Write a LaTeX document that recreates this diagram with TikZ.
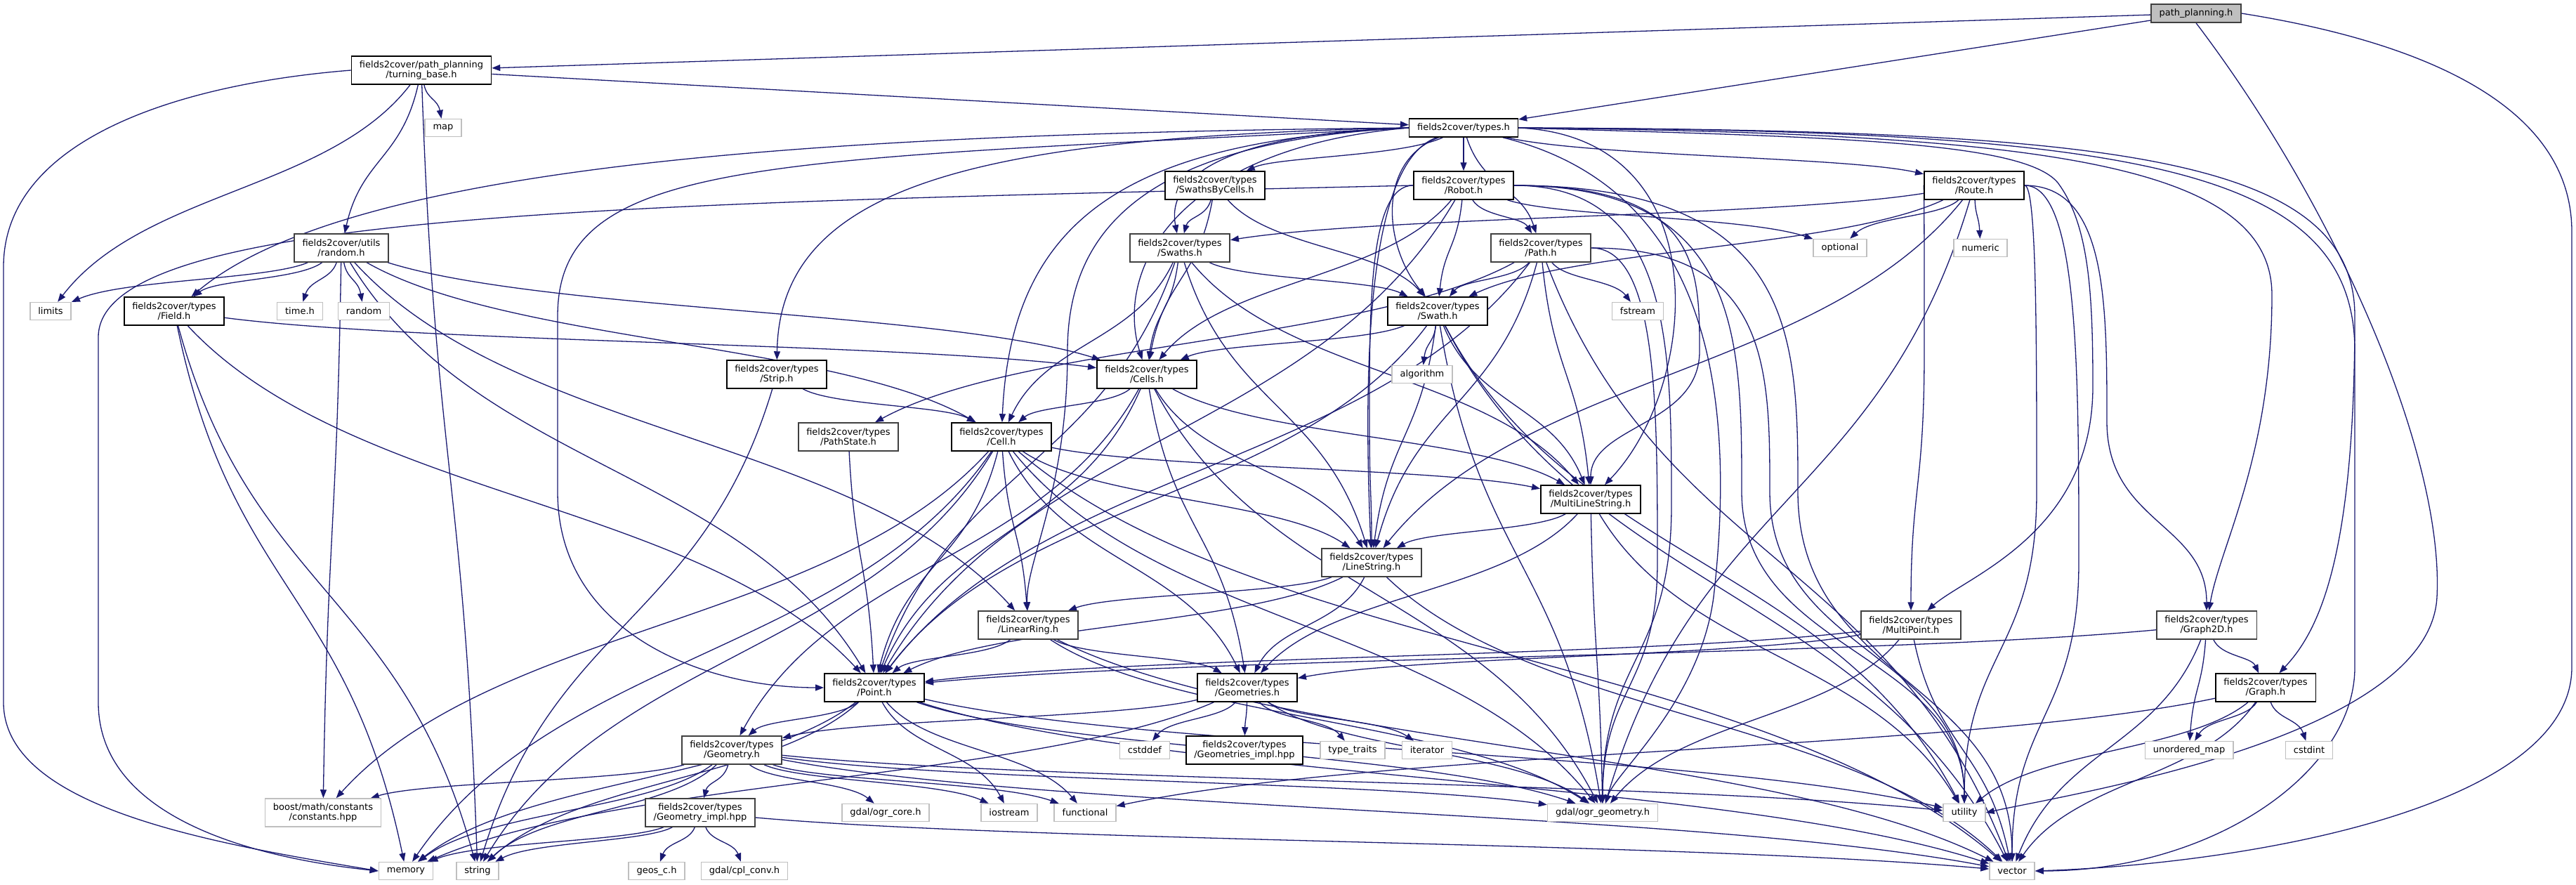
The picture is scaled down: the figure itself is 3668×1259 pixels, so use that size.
\documentclass[tikz,border=0pt]{standalone}
\usepackage{fontspec}
\setmainfont{DejaVu Sans}
\usepackage{tikz}
\usetikzlibrary{arrows.meta, backgrounds, calc}

\definecolor{edgeblue}{HTML}{191970}
\definecolor{boxgray}{HTML}{404040}
\definecolor{leafgray}{HTML}{BFBFBF}

% one include edge, drawn as a soft S-curve from #1 to #2
\newcommand{\depedge}[2]{%
  \draw[dep] let \p1=(#1.center), \p2=(#2.center) in
    (#1) .. controls ({\x1+0.25*(\x2-\x1)},{\y1+0.5*(\y2-\y1)})
             and ({\x2-0.25*(\x2-\x1)},{\y2-0.5*(\y2-\y1)}) .. (#2);}
% an edge that leaves #1 sideways, runs down through (#3,#4), then into #2
\newcommand{\viaedge}[4]{%
  \draw[dep] let \p1=(#1.center), \p2=(#2.center), \p3=(#3,#4) in
    (#1) .. controls (\x3,\y1) and (\x3,{0.5*(\y1+\y3)}) .. (\p3)
         .. controls (\x3,{0.5*(\y3+\y2)}) and (\x2,{0.5*(\y3+\y2)}) .. (#2);}

\begin{document}
\begin{tikzpicture}[
    x=1pt, y=-1pt,
    font=\fontsize{13}{14}\selectfont,
    hdr/.style={draw=black, fill=white, line width=1.5pt, align=center,
        inner xsep=11.5pt, inner ysep=2pt, minimum height=40pt},
    hdrgray/.style={hdr, draw=boxgray},
    sysnode/.style={draw=leafgray, fill=white, line width=1.5pt, align=center,
        inner xsep=11.5pt, inner ysep=2pt, minimum height=25pt},
    rootnode/.style={draw=boxgray, fill=leafgray, line width=1.5pt,
        inner xsep=11.5pt, inner ysep=2pt, minimum height=26pt},
    dep/.style={draw=edgeblue, line width=1.3pt,
        -{Triangle[length=12pt, width=9pt, fill=edgeblue]}}
]
\useasboundingbox (0,0) rectangle (3668,1259);

% Nodes
\node[rootnode] (path_plan) at (3127,19) {path\_planning.h};
\node[hdr] (turning_base) at (600,100) {fields2cover/path\_planning\\/turning\_base.h};
\node[hdr, minimum height=26pt] (types_h) at (2084,182) {fields2cover/types.h};
\node[sysnode] (map_h) at (631,182) {map};
\node[hdr] (swaths_by_cells) at (1730,264) {fields2cover/types\\/SwathsByCells.h};
\node[hdr] (robot) at (2084,264) {fields2cover/types\\/Robot.h};
\node[hdr] (route) at (2811,264) {fields2cover/types\\/Route.h};
\node[hdrgray] (random_h) at (486,353) {fields2cover/utils\\/random.h};
\node[hdrgray] (swaths) at (1680,353) {fields2cover/types\\/Swaths.h};
\node[hdrgray] (path_h) at (2194,353) {fields2cover/types\\/Path.h};
\node[sysnode] (optional_h) at (2620,353) {optional};
\node[sysnode] (numeric_h) at (2820,353) {numeric};
\node[sysnode] (limits_h) at (72,443) {limits};
\node[hdr] (field) at (248,443) {fields2cover/types\\/Field.h};
\node[sysnode] (time_h) at (427,443) {time.h};
\node[sysnode] (random_std) at (518,443) {random};
\node[hdr] (swath) at (2047,443) {fields2cover/types\\/Swath.h};
\node[sysnode] (fstream_h) at (2332,443) {fstream};
\node[hdr] (strip) at (1106,533) {fields2cover/types\\/Strip.h};
\node[hdr] (cells) at (1633,533) {fields2cover/types\\/Cells.h};
\node[sysnode] (algorithm_h) at (2025,533) {algorithm};
\node[hdrgray] (path_state) at (1208,622) {fields2cover/types\\/PathState.h};
\node[hdr] (cell) at (1426,622) {fields2cover/types\\/Cell.h};
\node[hdr] (multi_ls) at (2265,711) {fields2cover/types\\/MultiLineString.h};
\node[hdrgray] (line_string) at (1953,801) {fields2cover/types\\/LineString.h};
\node[hdrgray] (linear_ring) at (1464,890) {fields2cover/types\\/LinearRing.h};
\node[hdrgray] (multi_point) at (2721,890) {fields2cover/types\\/MultiPoint.h};
\node[hdrgray] (graph2d) at (3142,890) {fields2cover/types\\/Graph2D.h};
\node[hdr] (point) at (1245,979) {fields2cover/types\\/Point.h};
\node[hdr] (geometries) at (1776,979) {fields2cover/types\\/Geometries.h};
\node[hdr] (graph) at (3226,979) {fields2cover/types\\/Graph.h};
\node[hdrgray] (geometry) at (1042,1068) {fields2cover/types\\/Geometry.h};
\node[sysnode] (cstddef_h) at (1630,1068) {cstddef};
\node[hdr] (geoms_impl) at (1772,1068) {fields2cover/types\\/Geometries\_impl.hpp};
\node[sysnode] (type_traits_h) at (1926,1068) {type\_traits};
\node[sysnode] (iterator_h) at (2032,1068) {iterator};
\node[sysnode] (unordered_map_h) at (3117,1068) {unordered\_map};
\node[sysnode] (cstdint_h) at (3288,1068) {cstdint};
\node[sysnode, minimum height=40pt] (boost_const) at (460,1157) {boost/math/constants\\/constants.hpp};
\node[hdrgray] (geom_impl) at (997,1157) {fields2cover/types\\/Geometry\_impl.hpp};
\node[sysnode] (ogr_core) at (1261,1157) {gdal/ogr\_core.h};
\node[sysnode] (iostream_h) at (1437,1157) {iostream};
\node[sysnode] (functional_h) at (1545,1157) {functional};
\node[sysnode] (ogr_geom) at (2282,1157) {gdal/ogr\_geometry.h};
\node[sysnode] (utility_h) at (2797,1157) {utility};
\node[sysnode] (memory_h) at (578,1240) {memory};
\node[sysnode] (string_h) at (680,1240) {string};
\node[sysnode] (geos_c) at (935,1240) {geos\_c.h};
\node[sysnode] (cpl_conv) at (1060,1240) {gdal/cpl\_conv.h};
\node[sysnode] (vector_h) at (2865,1240) {vector};

% Paths
\begin{scope}[on background layer]
% path_planning.h
\draw[dep] (path_plan) -- (turning_base);
\draw[dep] (path_plan) -- (types_h);
\draw[dep] (path_plan.south) .. controls (3330,300) and (3480,650) .. (3470,850)
    .. controls (3460,1050) and (2950,1130) .. (utility_h.east);
\draw[dep] (path_plan.east) .. controls (3450,60) and (3662,150) .. (3662,330)
    -- (3662,950) .. controls (3662,1150) and (3200,1230) .. (vector_h.east);

% turning_base.h
\draw[dep] (turning_base) -- (types_h);
\foreach \t in {limits_h,map_h,random_h,string_h}
    \depedge{turning_base}{\t};
\draw[dep] (turning_base.west) .. controls (250,120) and (5,200) .. (5,380)
    -- (5,1000) .. controls (5,1150) and (300,1200) .. (memory_h.west);

% types.h
\foreach \t in {swaths_by_cells,robot,route,path_h}
    \depedge{types_h}{\t};
\draw[dep] (types_h.west) .. controls (1200,190) and (500,230) .. (field);
\draw[dep] (types_h.west) .. controls (1100,230) and (794,220) .. (794,450)
    -- (794,700) .. controls (794,900) and (1000,979) .. (point.west);
\draw[dep] (types_h.west) .. controls (1400,195) and (1110,260) .. (strip);
\draw[dep] (types_h.west) .. controls (1620,200) and (1440,300) .. (cell);
\draw[dep] (types_h.west) .. controls (1640,200) and (1520,320) .. (1520,500)
    .. controls (1520,700) and (1460,800) .. (linear_ring);
\draw[dep] (types_h.west) .. controls (1680,210) and (1585,380) .. (cells);
\draw[dep] (types_h.west) .. controls (1750,190) and (1660,250) .. (swaths);
\draw[dep] (types_h) .. controls (1960,230) and (1970,350) .. (swath);
\draw[dep] (types_h) .. controls (1950,230) and (1940,500) .. (line_string);
\draw[dep] (types_h.east) .. controls (2450,195) and (2420,550) .. (multi_ls);
\draw[dep] (types_h) .. controls (2400,260) and (2480,500) .. (2440,850)
    .. controls (2420,1000) and (2300,1100) .. (ogr_geom);
\draw[dep] (types_h.east) .. controls (2600,195) and (2880,200) .. (2930,260)
    .. controls (2975,320) and (2980,420) .. (2980,550)
    .. controls (2980,760) and (2800,820) .. (multi_point);
\draw[dep] (types_h.east) .. controls (2900,190) and (3235,230) .. (3235,420)
    .. controls (3235,650) and (3160,780) .. (graph2d);
\draw[dep] (types_h.east) .. controls (3000,185) and (3353,220) .. (3353,450)
    .. controls (3353,800) and (3300,900) .. (graph);
\draw[dep] (types_h.east) .. controls (3050,185) and (3353,240) .. (3353,500)
    -- (3353,950) .. controls (3353,1100) and (3150,1240) .. (vector_h.east);

% SwathsByCells.h, Robot.h, Route.h
\foreach \t in {swaths,swath,cells}
    \depedge{swaths_by_cells}{\t};
\foreach \t in {optional_h,path_h,swath,cells,point}
    \depedge{robot}{\t};
\viaedge{robot}{line_string}{1950}{600}
\viaedge{robot}{multi_ls}{2420}{500}
\viaedge{robot}{ogr_geom}{2380}{720}
\viaedge{robot}{utility_h}{2480}{700}
\viaedge{robot}{vector_h}{2560}{700}
\draw[dep] (robot.west) .. controls (900,290) and (140,300) .. (140,480)
    -- (140,1000) .. controls (140,1160) and (350,1220) .. (memory_h.west);
\foreach \t in {optional_h,numeric_h,swaths,swath,line_string,ogr_geom}
    \depedge{route}{\t};
\viaedge{route}{multi_point}{2740}{500}
\viaedge{route}{graph2d}{3000}{600}
\viaedge{route}{utility_h}{2900}{700}
\viaedge{route}{vector_h}{2960}{800}

% random.h
\foreach \t in {limits_h,field,boost_const,time_h,random_std,point,linear_ring,cell,cells}
    \depedge{random_h}{\t};

% Swaths.h, Path.h, Field.h, Swath.h, Strip.h
\foreach \t in {swath,cells,cell,line_string,multi_ls,point}
    \depedge{swaths}{\t};
\foreach \t in {swath,path_state,fstream_h,point,line_string,multi_ls,vector_h}
    \depedge{path_h}{\t};
\viaedge{path_h}{ogr_geom}{2360}{800}
\viaedge{path_h}{utility_h}{2520}{700}
\foreach \t in {cells,point,memory_h,string_h}
    \depedge{field}{\t};
\foreach \t in {algorithm_h,cells,point,line_string,multi_ls,ogr_geom,utility_h,vector_h}
    \depedge{swath}{\t};
\foreach \t in {cell,string_h}
    \depedge{strip}{\t};

% Cells.h, PathState.h, Cell.h
\foreach \t in {cell,point,line_string,multi_ls,geometries,ogr_geom,geometry}
    \depedge{cells}{\t};
\depedge{path_state}{point};
\foreach \t in {boost_const,string_h,memory_h,point,linear_ring,geometries,line_string,multi_ls,ogr_geom,vector_h}
    \depedge{cell}{\t};

% geometry headers
\foreach \t in {line_string,geometries,ogr_geom,utility_h}
    \depedge{multi_ls}{\t};
\foreach \t in {linear_ring,point,geometries,vector_h}
    \depedge{line_string}{\t};
\foreach \t in {point,geometries,ogr_geom,vector_h}
    \depedge{linear_ring}{\t};
\foreach \t in {point,geometries,ogr_geom,vector_h}
    \depedge{multi_point}{\t};
\foreach \t in {graph,point,unordered_map_h,vector_h}
    \depedge{graph2d}{\t};
\foreach \t in {geometry,iostream_h,functional_h,memory_h,string_h,ogr_geom,utility_h,vector_h}
    \depedge{point}{\t};
\foreach \t in {geometry,cstddef_h,geoms_impl,type_traits_h,iterator_h,ogr_geom,memory_h}
    \depedge{geometries}{\t};
\foreach \t in {unordered_map_h,cstdint_h,utility_h,vector_h,functional_h}
    \depedge{graph}{\t};
\foreach \t in {geom_impl,ogr_core,iostream_h,functional_h,ogr_geom,utility_h,vector_h,memory_h,string_h,boost_const}
    \depedge{geometry}{\t};
\foreach \t in {geos_c,cpl_conv,memory_h,string_h,vector_h}
    \depedge{geom_impl}{\t};
\end{scope}

\end{tikzpicture}
\end{document}
